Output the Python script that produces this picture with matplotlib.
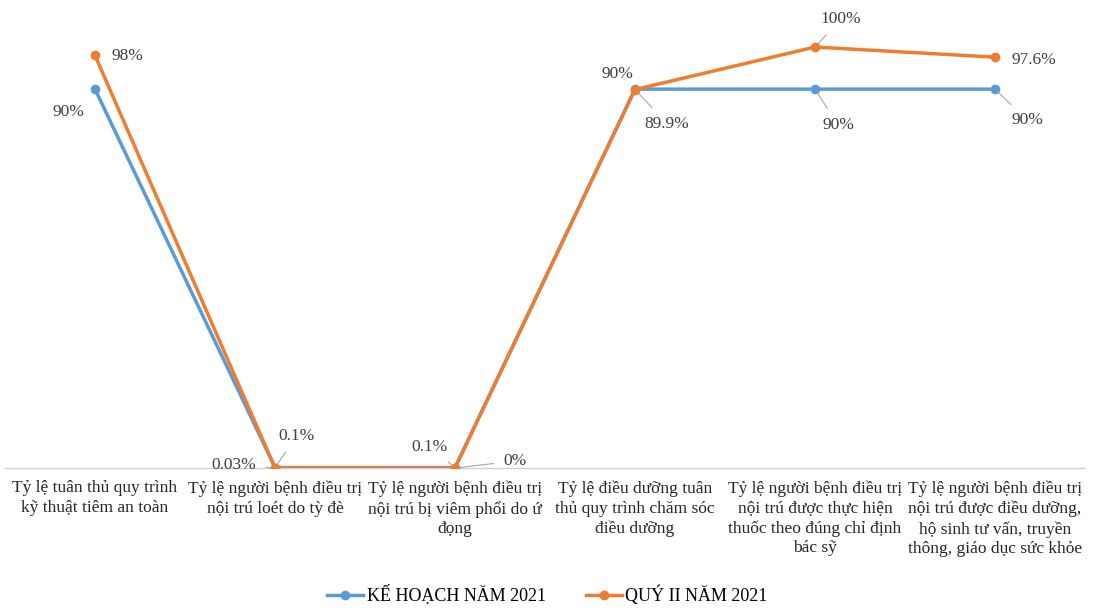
import matplotlib.pyplot as plt

plt.rcParams['font.family'] = ['Liberation Serif', 'DejaVu Serif']

categories = [
    "Tỷ lệ tuân thủ quy trình\nkỹ thuật tiêm an toàn",
    "Tỷ lệ người bệnh điều trị\nnội trú loét do tỳ đè",
    "Tỷ lệ người bệnh điều trị\nnội trú bị viêm phổi do ứ\nđọng",
    "Tỷ lệ điều dưỡng tuân\nthủ quy trình chăm sóc\nđiều dưỡng",
    "Tỷ lệ người bệnh điều trị\nnội trú được thực hiện\nthuốc theo đúng chỉ định\nbác sỹ",
    "Tỷ lệ người bệnh điều trị\nnội trú được điều dưỡng,\nhộ sinh tư vấn, truyền\nthông, giáo dục sức khỏe",
]
ke_hoach = [90, 0.1, 0.1, 90, 90, 90]
quy_2 = [98, 0.03, 0, 89.9, 100, 97.6]
ke_hoach_labels = ['90%', '0.1%', '0.1%', '90%', '90%', '90%']
quy_2_labels = ['98%', '0.03%', '0%', '89.9%', '100%', '97.6%']

# label offsets in pixels (dx, dy) and whether a leader line is drawn
kh_offsets = [(-27, -23, False), (22, 32, True), (-25, 21, True),
              (-18, 15, False), (23, -36, True), (32, -31, True)]
q2_offsets = [(32, -1, False), (-41, 3, True), (60, 7, True),
              (32, -34, True), (26, 28, True), (39, -3, False)]

BLUE = '#5B9BD5'
ORANGE = '#ED7D31'

fig = plt.figure(figsize=(10.95, 6.08), dpi=100)
ax = fig.add_axes([5 / 1095, 140 / 608, 1080 / 1095, 442 / 608])

x = range(len(categories))
ax.plot(x, ke_hoach, color=BLUE, lw=2.5, marker='o', ms=6,
        label='KẾ HOẠCH NĂM 2021', zorder=3)
ax.plot(x, quy_2, color=ORANGE, lw=2.5, marker='o', ms=6,
        label='QUÝ II NĂM 2021', zorder=4)


def add_labels(values, labels, offsets):
    for i, (v, t, (dx, dy, leader)) in enumerate(zip(values, labels, offsets)):
        arrow = None
        if leader:
            arrow = dict(arrowstyle='-', color='#a6a6a6', lw=0.8,
                         shrinkA=5, shrinkB=3)
        ax.annotate(t, (i, v), xytext=(dx, dy), textcoords='offset pixels',
                    ha='center', va='center', fontsize=12.5, color='#404040',
                    arrowprops=arrow, zorder=5)


add_labels(ke_hoach, ke_hoach_labels, kh_offsets)
add_labels(quy_2, quy_2_labels, q2_offsets)

ax.set_xlim(-0.5, len(categories) - 0.5)
ax.set_ylim(0, 105)
ax.set_xticks(list(x))
ax.set_xticklabels(categories, fontsize=12.5, color='#262626', linespacing=1.3)
ax.tick_params(axis='x', length=0, pad=9)
ax.set_yticks([])
for s in ['top', 'right', 'left']:
    ax.spines[s].set_visible(False)
ax.spines['bottom'].set_color('#d0d0d0')
ax.spines['bottom'].set_linewidth(1)

fig.legend(loc='lower center', bbox_to_anchor=(0.5, -0.022), ncol=2, frameon=False,
           fontsize=13, handlelength=2.0, handletextpad=0.2, columnspacing=2.2)

plt.savefig('out.png', dpi=100)
